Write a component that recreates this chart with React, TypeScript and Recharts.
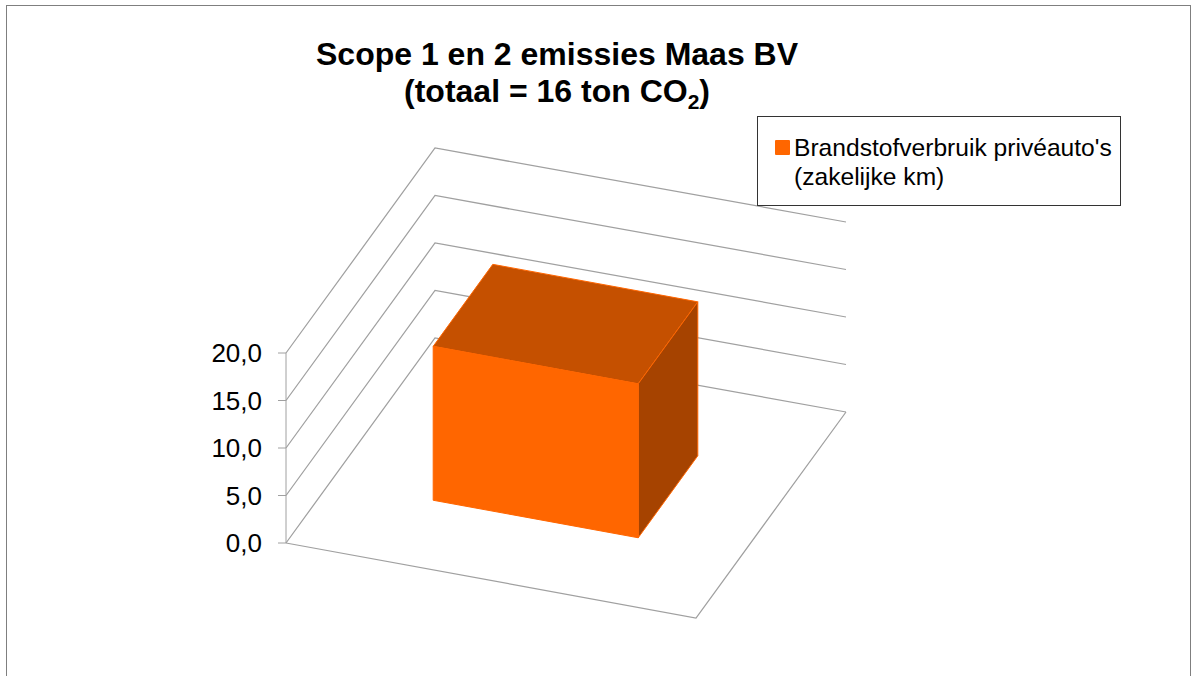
import { BarChart, Bar, XAxis, YAxis, CartesianGrid, Legend } from 'recharts'

const categories = ['Scope 1 en 2']
const seriesName = "Brandstofverbruik privéauto's (zakelijke km)"
const fuelValues = [16.2]
const valueTicks = [0, 5, 10, 15, 20]

const data = categories.map((name, i) => ({ name, fuel: fuelValues[i] }))

// 3D projection: one unit of depth on the floor, one unit of width along the front edge
const DEPTH_X = 149
const DEPTH_Y = -205
const WIDTH_X = 410
const WIDTH_Y = 75
const ORANGE = '#ff6600'
const GRID = '#a0a0a0'

function wallLine(props: any) {
  const { x1, y1, index } = props
  const backX = x1 + DEPTH_X
  const backY = y1 + DEPTH_Y
  const pts = [`${x1},${y1}`, `${backX},${backY}`, `${backX + WIDTH_X + 1},${backY + WIDTH_Y - 1}`]
  return (
    <g key={`wall-${index}`}>
      <polyline points={pts.join(' ')} fill="none" stroke={GRID} strokeWidth={1.25} />
      {y1 > 500 && (
        <polyline
          points={`${x1},${y1} ${x1 + WIDTH_X},${y1 + WIDTH_Y} ${x1 + WIDTH_X + DEPTH_X + 1},${y1 + WIDTH_Y + DEPTH_Y - 1}`}
          fill="none"
          stroke={GRID}
          strokeWidth={1.25}
        />
      )}
    </g>
  )
}

function Box3D(props: any) {
  const { x, y, width, height } = props
  const bottom = y + height
  const slope = WIDTH_Y / WIDTH_X
  // the box stands 30% into the floor, and 25% along the front edge
  const ox = x + 0.3 * DEPTH_X
  const baseLeft = bottom + 0.25 * WIDTH_Y + 0.3 * DEPTH_Y
  const topLeft = baseLeft - height
  const rx = ox + width
  const rise = width * slope
  const dx = 0.4 * DEPTH_X
  const dy = 0.4 * DEPTH_Y
  const poly = (pts: number[][]) => pts.map(p => p.join(',')).join(' ')
  return (
    <g>
      <polygon
        points={poly([[ox, topLeft], [ox + dx, topLeft + dy], [rx + dx, topLeft + rise + dy], [rx, topLeft + rise]])}
        fill="#c55000"
        stroke={ORANGE}
        strokeWidth={1}
      />
      <polygon
        points={poly([[rx, topLeft + rise], [rx + dx, topLeft + rise + dy], [rx + dx, baseLeft + rise + dy], [rx, baseLeft + rise]])}
        fill="#a64300"
        stroke={ORANGE}
        strokeWidth={1}
      />
      <polygon
        points={poly([[ox, topLeft], [rx, topLeft + rise], [rx, baseLeft + rise], [ox, baseLeft]])}
        fill={ORANGE}
        stroke={ORANGE}
        strokeWidth={1}
      />
    </g>
  )
}

function LegendBox() {
  return (
    <div
      style={{
        boxSizing: 'border-box',
        width: 364,
        height: 90,
        background: '#fff',
        border: '1px solid #333',
        position: 'relative',
        fontFamily: 'Liberation Sans',
        fontSize: 24.6,
        lineHeight: '29px',
        color: '#000',
      }}
    >
      <span style={{ position: 'absolute', left: 17, top: 23, width: 15, height: 15, background: ORANGE, borderRadius: 1 }} />
      <div style={{ position: 'absolute', left: 36, top: 16, width: 325, textAlign: 'left' }}>{seriesName}</div>
    </div>
  )
}

export default function App() {
  return (
    <div style={{ position: 'absolute', left: 0, top: 0, width: 1198, height: 676, overflow: 'hidden', background: '#fff' }}>
      <div style={{ position: 'absolute', left: 6, top: 5, width: 1185, height: 680, border: '1px solid #7f7f7f', boxSizing: 'border-box' }} />
      <div
        style={{
          position: 'absolute',
          left: 257,
          top: 36,
          width: 600,
          textAlign: 'center',
          fontFamily: 'Liberation Sans',
          fontWeight: 700,
          fontSize: 32,
          lineHeight: '37px',
          color: '#000',
        }}
      >
        Scope 1 en 2 emissies Maas BV
        <br />
        (totaal = 16 ton CO<sub style={{ fontSize: 21, lineHeight: 0 }}>2</sub>)
      </div>
      <BarChart
        width={1198}
        height={676}
        data={data}
        margin={{ top: 353, right: 502, bottom: 133, left: 186 }}
        barCategoryGap="25%"
        style={{ position: 'absolute', left: 0, top: 0 }}
      >
        <CartesianGrid vertical={false} horizontal={wallLine} />
        <XAxis dataKey="name" hide />
        <YAxis
          domain={[0, 20]}
          ticks={valueTicks}
          width={100}
          interval={0}
          tickFormatter={(v: number) => v.toFixed(1).replace('.', ',')}
          tick={{ fill: '#000', fontSize: 26, fontFamily: 'Liberation Sans' }}
          tickSize={8}
          tickMargin={16}
          axisLine={{ stroke: GRID }}
          tickLine={{ stroke: GRID }}
        />
        <Bar dataKey="fuel" name={seriesName} fill={ORANGE} shape={Box3D} isAnimationActive={false} />
        <Legend
          layout="horizontal"
          align="center"
          verticalAlign="middle"
          content={LegendBox}
          wrapperStyle={{ left: 757, top: 116, width: 364 }}
        />
      </BarChart>
    </div>
  )
}
